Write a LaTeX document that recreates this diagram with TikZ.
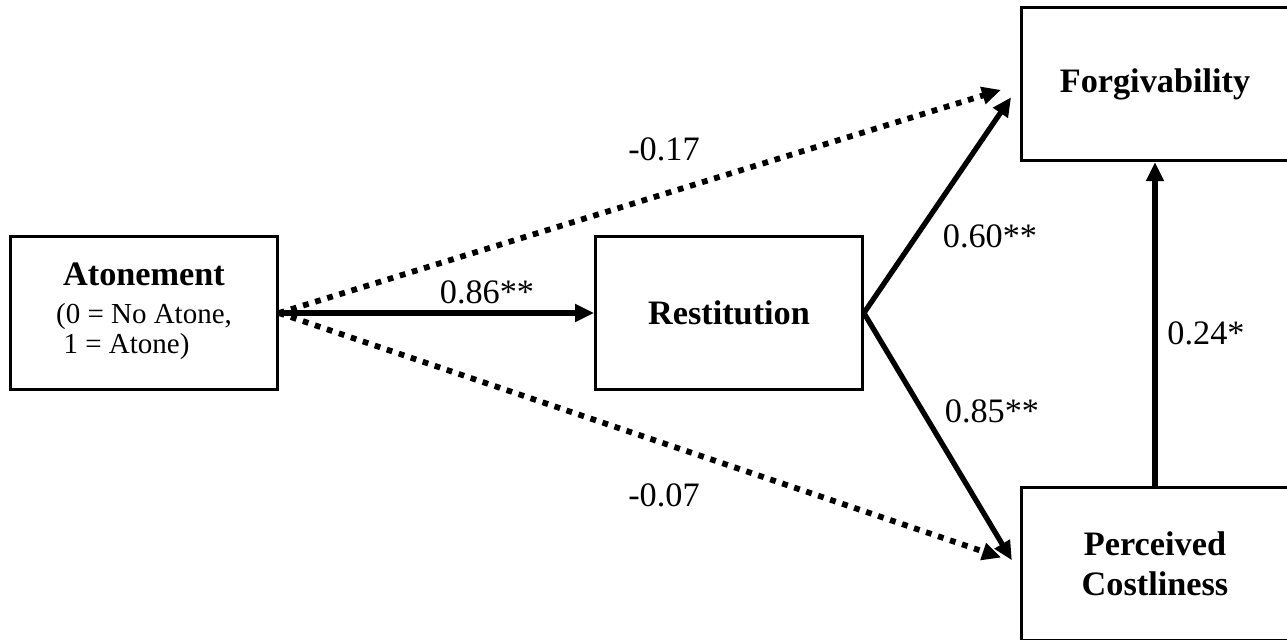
\documentclass[tikz,border=0pt]{standalone}
\usepackage{fontspec}
\setmainfont{Liberation Serif}
\usetikzlibrary{arrows.meta}

\tikzset{
  varbox/.style={draw,line width=1.6pt,minimum width=5.34cm,minimum height=3.07cm,
    inner sep=0pt,align=center,font=\fontsize{19.5}{23}\selectfont\bfseries},
  coef/.style={inner sep=0pt,font=\fontsize{19.5}{23}\selectfont},
  solidarrow/.style={line width=3pt,-{Triangle[length=0.38cm,width=0.34cm]}},
  dotarrow/.style={line width=3.3pt,dash pattern=on 3.3pt off 3.9pt,
    -{Triangle[length=0.38cm,width=0.34cm]},shorten >=0.4cm}
}
\newcommand{\subfont}{\fontsize{16.5}{17}\selectfont\mdseries}

\begin{document}
\begin{tikzpicture}
\useasboundingbox (0,0) rectangle (25.74,-12.78);

\node[varbox] (atone) at (2.88,-6.26) {Atonement\\[8pt]{\subfont\renewcommand{\arraystretch}{1}\begin{tabular}{@{}l@{}}(0 = No Atone,\\ \hspace{0.15cm}1 = Atone)\end{tabular}}};
\node[varbox] (rest) [right of=atone,node distance=11.7cm] {Restitution};
\node[varbox] (forg) at (23.1,-1.68) {Forgivability};
\node[varbox] (cost) [below of=forg,node distance=9.6cm] {Perceived\\Costliness};

\draw[dotarrow] (atone.east) -- (forg.west);
\draw[dotarrow] (atone.east) -- (cost.west);
\draw[solidarrow] (atone.east) -- (rest.west);
\draw[solidarrow,shorten >=0.32cm] (rest.east) -- (forg.west);
\draw[solidarrow,shorten >=0.32cm] (rest.east) -- ([yshift=-0.2cm]cost.west);
\draw[solidarrow] (cost.north) -- (forg.south);

\node[coef] (c86) at (9.74,-5.84) {0.86**};
\node[coef] (c17) at (13.28,-2.98) {-0.17};
\node[coef] (c07) at (13.28,-9.9) {-0.07};
\node[coef] (c60) at (19.8,-4.72) {0.60**};
\node[coef] (c85) at (19.84,-8.22) {0.85**};
\node[coef] (c24) at (24.12,-6.66) {0.24*};
\end{tikzpicture}
\end{document}
